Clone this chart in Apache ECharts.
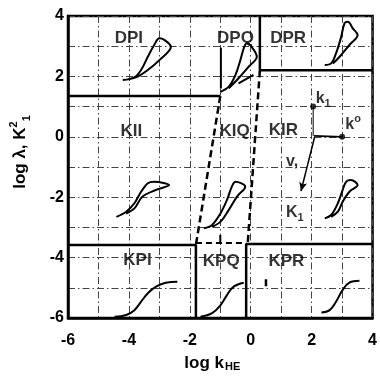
<!DOCTYPE html>
<html>
<head>
<meta charset="utf-8">
<script src="https://cdn.jsdelivr.net/npm/echarts@6/dist/echarts.min.js"></script>
<style>
  html, body { margin: 0; padding: 0; background: #fff; }
  #chart { width: 380px; height: 383px; }
</style>
</head>
<body>
<div id="chart"></div>
<script>
// axis ticks (log units)
var xTicks = [-6, -4, -2, 0, 2, 4]
var yTicks = [-6, -4, -2, 0, 2, 4]

// region names and where they sit
var regionNames = ['DPI', 'DPQ', 'DPR', 'KII', 'KIQ', 'KIR', 'KPI', 'KPQ', 'KPR']
var regionX = [-4.0, -0.5, 1.23, -3.92, -0.53, 1.07, -3.72, -0.97, 1.17]
var regionY = [3.27, 3.27, 3.27, 0.19, 0.19, 0.2, -4.1, -4.12, -4.12]

// solid region boundaries
var edgeDI = [[-6, 1.35], [-1.0, 1.35]]
var edgeDR = [[0.3, 4], [0.3, 2.2], [4, 2.2]]
var edgeKPI = [[-6, -3.58], [-1.8, -3.58], [-1.8, -6]]
var edgeKPR = [[-0.15, -6], [-0.15, -3.55], [4, -3.55]]
// dashed boundaries of the Q strip
var dashLeft = [[-1.0, 1.35], [-1.8, -3.58]]
var dashRight = [[0.3, 2.2], [-0.1, -3.55]]
var dashKPQ = [[-1.8, -3.52], [-0.15, -3.52]]
var dashKPQTick = [[-1.0, -3.25], [-1.0, -3.52]]

// hysteresis loops (schematic insets)
var loopDPI = [[-4.2, 1.88], [-3.82, 1.97], [-3.6, 2.21], [-3.38, 2.65], [-3.17, 3.04], [-3.0, 3.26], [-2.84, 3.21], [-2.62, 2.98], [-3.0, 2.54], [-3.38, 2.21], [-3.71, 1.99], [-3.87, 1.94]]
var loopDPQ = [[-0.99, 1.49], [-0.72, 1.66], [-0.5, 2.05], [-0.34, 2.54], [-0.23, 2.93], [-0.13, 3.1], [-0.02, 3.04], [0.2, 2.65], [-0.07, 2.32], [-0.4, 1.94], [-0.72, 1.61]]
var strokeDPQ = [[-0.4, 1.77], [0.09, 2.05]]
var barDPQ = [[-0.98, 2.95], [-0.98, 1.6]]
var loopDPR = [[2.43, 2.38], [2.64, 2.43], [2.8, 2.76], [2.97, 3.31], [3.08, 3.76], [3.19, 3.81], [3.35, 3.59], [3.51, 3.37], [3.24, 3.04], [2.92, 2.65], [2.7, 2.43]]
var loopKII = [[-4.41, -2.65], [-4.09, -2.48], [-3.82, -2.2], [-3.6, -1.82], [-3.38, -1.54], [-3.17, -1.49], [-2.68, -1.6], [-3.11, -1.76], [-3.55, -1.98], [-3.82, -2.37], [-4.09, -2.54]]
var loopKIQ = [[-1.54, -3.03], [-1.27, -2.92], [-0.99, -2.53], [-0.78, -2.09], [-0.62, -1.65], [-0.5, -1.49], [-0.18, -1.65], [-0.45, -1.98], [-0.72, -2.42], [-0.99, -2.81], [-1.27, -2.98]]
var loopKIR = [[2.43, -2.7], [2.64, -2.59], [2.86, -2.2], [3.02, -1.76], [3.13, -1.49], [3.29, -1.43], [3.51, -1.6], [3.24, -1.82], [3.02, -2.15], [2.86, -2.48], [2.64, -2.65]]

// sigmoid insets
var sigKPI = [[-4.47, -5.96], [-4.09, -5.9], [-3.82, -5.74], [-3.6, -5.46], [-3.38, -5.18], [-3.11, -4.96], [-2.79, -4.83], [-2.41, -4.8]]
var sigKPQ = [[-1.65, -5.96], [-1.27, -5.84], [-0.99, -5.57], [-0.78, -5.24], [-0.56, -4.96], [-0.23, -4.83]]
var sigKPR = [[2.32, -5.82], [2.59, -5.74], [2.8, -5.46], [3.02, -5.07], [3.24, -4.83], [3.57, -4.77]]
var tickKPR = [[0.5, -4.72], [0.5, -4.95]]

// KIR construction: k1, k0 and the path down to K1
var ptK1 = [2.05, 1.0]
var ptK0 = [3.0, 0.0]
var dropK1 = [[2.05, 1.0], [2.05, 0.03]]
var runK0 = [[2.08, 0.03], [3.0, 0.0]]
var arrowK1 = [[2.1, 0.0], [1.65, -1.8]]

var font = 'Liberation Sans, Arial, Helvetica, sans-serif'

function line(data, width, type, smooth) {
  return {
    type: 'line',
    data: data,
    symbol: 'none',
    smooth: smooth || false,
    silent: true,
    lineStyle: { color: '#000', width: width, type: type || 'solid' },
    z: 3
  }
}

var chart = echarts.init(document.getElementById('chart'))

var labelData = regionNames.map(function(n, i) {
  return { name: n, value: [regionX[i], regionY[i]] }
})

var marks = [
  { value: [2.38, 1.28], label: { formatter: '{m|k}{s|1}' } },
  { value: [3.36, 0.4], label: { formatter: '{m|k}{u|o}' } },
  { value: [1.36, -0.82], label: { formatter: '{m|v,}' } },
  { value: [1.45, -2.5], label: { formatter: '{m|K}{s|1}' } }
]

var arrowEnd = arrowK1.map(function(p, i) {
  return i === 0 ? { value: p, symbol: 'none' } : { value: p, symbol: 'arrow', symbolSize: [6, 9], symbolRotate: 166 }
})

var option = {
  animation: false,
  backgroundColor: '#fff',
  grid: { left: 68, right: 5, top: 16, bottom: 65, show: true, borderColor: '#000', borderWidth: 2.5 },
  xAxis: {
    type: 'value', min: -6, max: 4, interval: 1,
    axisLine: { show: true, onZero: false, lineStyle: { color: '#000', width: 2.5 } },
    axisTick: { show: false },
    axisLabel: {
      margin: 15, color: '#000', fontSize: 16, fontWeight: 'bold', fontFamily: font,
      formatter: function(v) { return xTicks.indexOf(v) >= 0 ? String(v) : '' }
    },
    splitLine: { show: true, lineStyle: { color: '#444', width: 1, type: [7, 3, 1.5, 3] } },
    name: '{a|log k}{b|HE}',
    nameLocation: 'middle',
    nameGap: 37,
    nameTextStyle: {
      padding: [0, 16, 0, 0],
      rich: {
        a: { fontSize: 17, fontWeight: 'bold', fontFamily: font, color: '#000' },
        b: { fontSize: 11, fontWeight: 'bold', fontFamily: font, color: '#000', verticalAlign: 'bottom', padding: [0, 0, 0, 1] }
      }
    }
  },
  yAxis: {
    type: 'value', min: -6, max: 4, interval: 1,
    axisLine: { show: true, onZero: false, lineStyle: { color: '#000', width: 2.5 } },
    axisTick: { show: false },
    axisLabel: {
      margin: 4, color: '#000', fontSize: 16, fontWeight: 'bold', fontFamily: font,
      formatter: function(v) { return yTicks.indexOf(v) >= 0 ? String(v) : '' }
    },
    splitLine: { show: true, lineStyle: { color: '#444', width: 1, type: [7, 3, 1.5, 3] } },
    name: '{a|log λ, K}{u|2}{s|1}',
    nameLocation: 'middle',
    nameGap: 36,
    nameRotate: 90,
    nameTextStyle: {
      padding: [0, 0, 0, 30],
      rich: {
        a: { fontSize: 17, fontWeight: 'bold', fontFamily: font, color: '#000', lineHeight: 24 },
        u: { fontSize: 11, fontWeight: 'bold', fontFamily: font, color: '#000', verticalAlign: 'top', lineHeight: 24 },
        s: { fontSize: 11, fontWeight: 'bold', fontFamily: font, color: '#000', verticalAlign: 'bottom', lineHeight: 24 }
      }
    }
  },
  series: [
    line(edgeDI, 2.5),
    line(edgeDR, 2.5),
    line(edgeKPI, 2.5),
    line(edgeKPR, 2.5),
    line(dashLeft, 2.5, [7, 4]),
    line(dashRight, 2.5, [7, 4]),
    line(dashKPQ, 2, [6, 4]),
    line(dashKPQTick, 2),
    line(loopDPI, 2, 'solid', 0.35),
    line(loopDPQ, 2, 'solid', 0.35),
    line(strokeDPQ, 2),
    line(barDPQ, 2),
    line(loopDPR, 2, 'solid', 0.35),
    line(loopKII, 2, 'solid', 0.35),
    line(loopKIQ, 2, 'solid', 0.35),
    line(loopKIR, 2, 'solid', 0.35),
    line(sigKPI, 2, 'solid', 0.4),
    line(sigKPQ, 2, 'solid', 0.4),
    line(sigKPR, 2, 'solid', 0.4),
    line(tickKPR, 2.5),
    line(dropK1, 1),
    line(runK0, 1.8),
    {
      type: 'line', data: arrowEnd, silent: true, z: 3,
      lineStyle: { color: '#000', width: 1.5 }, itemStyle: { color: '#000' }
    },
    {
      type: 'scatter', data: [ptK1, ptK0], symbolSize: 6, silent: true, z: 4,
      itemStyle: { color: '#000' }
    },
    {
      type: 'scatter', data: labelData, symbolSize: 0, silent: true, z: 5,
      label: {
        show: true, position: 'inside', formatter: '{b}',
        color: '#000', fontSize: 17, fontWeight: 'bold', fontFamily: font
      }
    },
    {
      type: 'scatter', data: marks, symbolSize: 0, silent: true, z: 5,
      label: {
        show: true, position: 'inside',
        rich: {
          m: { fontSize: 16, fontWeight: 'bold', fontFamily: font, color: '#000', lineHeight: 22 },
          s: { fontSize: 11, fontWeight: 'bold', fontFamily: font, color: '#000', verticalAlign: 'bottom', lineHeight: 22 },
          u: { fontSize: 11, fontWeight: 'bold', fontFamily: font, color: '#000', verticalAlign: 'top', lineHeight: 22 }
        }
      }
    }
  ]
}

chart.setOption(option)
window.addEventListener('resize', function() {
  chart.resize()
})
</script>
</body>
</html>
